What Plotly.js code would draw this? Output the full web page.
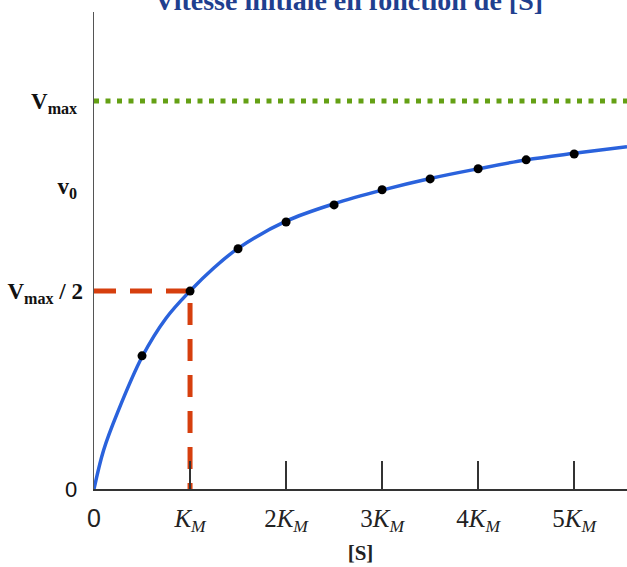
<!DOCTYPE html>
<html>
<head>
<meta charset="utf-8">
<script src="https://cdn.plot.ly/plotly-3.0.1.min.js"></script>
<style>html,body{margin:0;padding:0;background:#fff;}#chart{width:627px;height:567px;}</style>
</head>
<body>
<div id="chart"></div>
<script>
// [S] in multiples of K_M, v0 as a fraction of Vmax
const curveS = [0, 0.1, 0.25, 0.5, 0.75, 1, 1.25, 1.5, 2, 2.5, 3, 3.5, 4, 4.5, 5, 5.55];
const curveV = [0, 0.10, 0.20, 0.34, 0.44, 0.51, 0.57, 0.62, 0.69, 0.735, 0.77, 0.80, 0.825, 0.848, 0.865, 0.882];
const pointS = [0.5, 1, 1.5, 2, 2.5, 3, 3.5, 4, 4.5, 5];
const pointV = [0.343, 0.510, 0.619, 0.688, 0.732, 0.771, 0.799, 0.825, 0.848, 0.863];
const vmaxS = [0, 5.55];
const vmaxV = [1, 1];
const halfS = [0, 1, 1];
const halfV = [0.51, 0.51, 0];
const xTickVals = [0, 1, 2, 3, 4, 5];
const xTickText = ['<span style="font-family:Liberation Sans">0</span>', '<i>K</i><sub><i>M</i></sub>', '2<i>K</i><sub><i>M</i></sub>', '3<i>K</i><sub><i>M</i></sub>', '4<i>K</i><sub><i>M</i></sub>', '5<i>K</i><sub><i>M</i></sub>'];
const yTickVals = [0, 0.51, 0.78, 1];
const yTickText = ['<span style="font-family:Liberation Sans;font-weight:normal;font-size:22px">0</span>\u00A0', '<b>V<sub>max</sub> / 2</b>', '<b>v<sub>0</sub></b>\u00A0', '<b>V<sub>max</sub></b>\u00A0'];

const traces = [
  {x: vmaxS, y: vmaxV, mode: 'lines', line: {color: '#64a014', width: 5, dash: '5px,6.5px'}, hoverinfo: 'skip'},
  {x: halfS, y: halfV, mode: 'lines', line: {color: '#d63f0e', width: 5, dash: '22px,14px'}, hoverinfo: 'skip'},
  {x: curveS, y: curveV, mode: 'lines', line: {color: '#2a62dc', width: 3.5, shape: 'spline', smoothing: 1}, hoverinfo: 'skip'},
  {x: pointS, y: pointV, mode: 'markers', marker: {color: '#000', size: 9}, hoverinfo: 'skip'}
];

const layout = {
  width: 627, height: 567,
  margin: {l: 94, r: 0, t: 12, b: 78},
  paper_bgcolor: '#fff', plot_bgcolor: '#fff',
  showlegend: false,
  title: {
    text: '<b>Vitesse initiale en fonction de [S]</b>',
    font: {family: 'Liberation Serif', size: 28, color: '#1f3f8f'},
    xref: 'paper', x: 0.478, xanchor: 'center',
    yref: 'container', y: 0.9995, yanchor: 'middle'
  },
  xaxis: {
    range: [0, 5.55], showgrid: false, zeroline: false,
    showline: true, linecolor: '#333', linewidth: 2,
    ticks: 'inside', ticklen: 28, tickwidth: 1.5, tickcolor: '#333',
    tickvals: xTickVals, ticktext: xTickText, ticklabelstandoff: 6,
    tickfont: {family: 'Liberation Serif', size: 25, color: '#222'},
    title: {text: '<b>[S]</b>', font: {family: 'Liberation Serif', size: 21, color: '#222'}, standoff: 10},
    automargin: false, fixedrange: true
  },
  yaxis: {
    range: [0, 1.229], showgrid: false, zeroline: false,
    showline: true, linecolor: '#555', linewidth: 1.5,
    ticks: '', tickvals: yTickVals, ticktext: yTickText, ticklabelstandoff: 5,
    tickfont: {family: 'Liberation Serif', size: 23, color: '#111'},
    automargin: false, fixedrange: true
  }
};

Plotly.newPlot('chart', traces, layout, {staticPlot: true, displayModeBar: false});
</script>
</body>
</html>
